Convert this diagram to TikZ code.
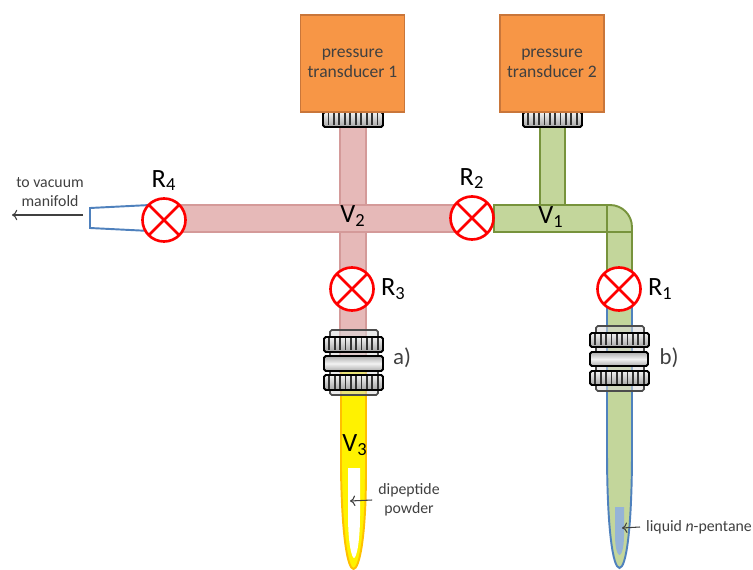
\documentclass[tikz,border=0pt]{standalone}
\usepackage{fontspec}
\setmainfont{Carlito}
\usetikzlibrary{positioning,arrows.meta}

\definecolor{boxorange}{HTML}{F79646}
\definecolor{boxedge}{HTML}{C9763A}
\definecolor{pinkfill}{HTML}{E6B9B8}
\definecolor{pinkedge}{HTML}{D49A99}
\definecolor{greenfill}{HTML}{C3D69B}
\definecolor{greenedge}{HTML}{77933C}
\definecolor{tubeblue}{HTML}{4F81BD}
\definecolor{liquidblue}{HTML}{95B3D7}
\definecolor{glassorange}{HTML}{FFC000}
\definecolor{textgray}{HTML}{404040}

\begin{document}
\begin{tikzpicture}[x=0.02cm, y=-0.02cm,
    pinktube/.style={fill=pinkfill, draw=pinkedge, line width=0.7pt},
    greentube/.style={fill=greenfill, draw=greenedge, line width=1.1pt},
    transducer/.style={fill=boxorange, draw=boxedge, line width=0.8pt,
      minimum width=59pt, minimum height=55pt, align=center,
      font=\fontsize{10}{11.5}\selectfont, text=textgray},
    knurl/.style={draw=black, line width=1.1pt, rounded corners=1pt,
      top color=gray!10, bottom color=gray!70},
    stripe/.style={draw=black!80, line width=1pt},
    bar/.style={draw=black, line width=1.1pt, rounded corners=1pt,
      top color=gray!65, bottom color=gray!65, middle color=gray!10},
    sleeve/.style={fill=gray!30, fill opacity=0.55, draw=gray!60!black,
      line width=0.9pt, rounded corners=1pt},
    valve/.style={circle, draw=red, fill=white, line width=1.5pt,
      inner sep=0pt, minimum size=24.5pt,
      path picture={\draw[red, line width=1.5pt]
        (path picture bounding box.north west) -- (path picture bounding box.south east)
        (path picture bounding box.north east) -- (path picture bounding box.south west);}},
    biglabel/.style={font=\fontsize{15}{18}\selectfont},
    smalllabel/.style={font=\fontsize{9}{11}\selectfont, text=textgray, align=center},
    note/.style={-{To[length=3pt, width=6pt]}, textgray, line width=0.6pt}]
  \useasboundingbox (0,0) rectangle (753,570);

  % pink cross (V2)
  \draw[pinktube] (340,127) rectangle (366,372);
  \draw[pinktube] (180,205) rectangle (468,232);

  % green elbow (V1)
  \draw[greentube] (540,127) rectangle (565,205);
  \draw[greentube] (494,205) rectangle (607,232);
  \draw[greentube] (607,232) -- (607,205) -- (610,205)
    arc[start angle=90, end angle=0, radius=12.5pt] -- (632,232) -- cycle;
  \draw[greentube] (607,232) rectangle (632,305);

  % tube b) with liquid pentane
  \draw[fill=greenfill, draw=tubeblue, line width=1.1pt]
    (607,300) -- (607,450) .. controls (607,530) and (613,568) .. (619.5,568)
    .. controls (626,568) and (632,530) .. (632,450) -- (632,300);
  \fill[liquidblue] (615,507) -- (624,507) -- (624,535)
    .. controls (624,550) and (621,555) .. (619.5,555)
    .. controls (618,555) and (615,550) .. (615,535) -- cycle;

  % tube a) with dipeptide powder (V3)
  \draw[fill=yellow, draw=glassorange, line width=1.1pt]
    (341,372) -- (341,470) .. controls (342,540) and (348,569) .. (353.5,569)
    .. controls (359,569) and (366,540) .. (366,470) -- (366,372);
  \fill[white] (348,468) -- (360,468) -- (360,515)
    .. controls (360,545) and (356,558) .. (354,558)
    .. controls (352,558) and (348,545) .. (348,515) -- cycle;

  % outlet to the vacuum line
  \draw[fill=white, draw=tubeblue, line width=1.1pt]
    (150,205) -- (90,208) -- (90,228) -- (150,231);

  % fittings a) and b)
  \draw[sleeve] (330,330) rectangle (378,395);
  \draw[sleeve] (596,326) rectangle (644,391);
  \draw[bar] (324,356) rectangle (383,371);
  \draw[bar] (590,352) rectangle (648,366);
  \foreach \xa/\ya/\xb/\yb in {324/337/383/352, 324/375/383/390,
      590/333/649/347, 590/371/649/385, 323/112/383/127, 523/112/582/127} {
    \draw[knurl] (\xa,\ya) rectangle (\xb,\yb);
    \foreach \s in {1,...,10}
      \draw[stripe] ({\xa+\s*(\xb-\xa)/11},\ya+1.5) -- ({\xa+\s*(\xb-\xa)/11},\yb-1.5);
  }

  % transducers
  \node[transducer] (pt1) at (352.5,63.5) {pressure\\transducer 1};
  \node[transducer] (pt2) at (552,63.5) {pressure\\transducer 2};

  % valves
  \node[valve] (R1) at (619,289) {};
  \node[valve] (R2) at (472,218) {};
  \node[valve] (R3) at (352,289) {};
  \node[valve] (R4) at (164,220) {};
  \node[biglabel, right=0pt of R1] (R1lab) {R\textsubscript{1}};
  \node[biglabel, above=0pt of R2] (R2lab) {R\textsubscript{2}};
  \node[biglabel, right=0pt of R3] (R3lab) {R\textsubscript{3}};
  \node[biglabel, above=0pt of R4] (R4lab) {R\textsubscript{4}};

  % volumes
  \node[biglabel] (V1) at (551,217) {V\textsubscript{1}};
  \node[biglabel] (V2) at (353,216) {V\textsubscript{2}};
  \node[biglabel] (V3) at (355,445) {V\textsubscript{3}};
  \node[font=\fontsize{13}{15}\selectfont, text=textgray] (a) at (402,358) {a)};
  \node[font=\fontsize{13}{15}\selectfont, text=textgray] (b) at (669,358) {b)};

  % notes with arrows
  \coordinate (outletend) at (83,215);
  \coordinate (vac) at (12,215);
  \node[smalllabel] (vaclab) at (50,192) {to vacuum\\manifold};
  \draw[note] (outletend) -- (vac);

  \coordinate (powder) at (350,501);
  \node[smalllabel] (dip) at (409,500) {dipeptide\\powder};
  \draw[note] (dip.west) -- (powder);

  \coordinate (liquid) at (622,528);
  \node[smalllabel, anchor=west] (pent) at (640,527) {liquid \textit{n}-pentane};
  \draw[note] (pent.west) -- (liquid);
\end{tikzpicture}
\end{document}
